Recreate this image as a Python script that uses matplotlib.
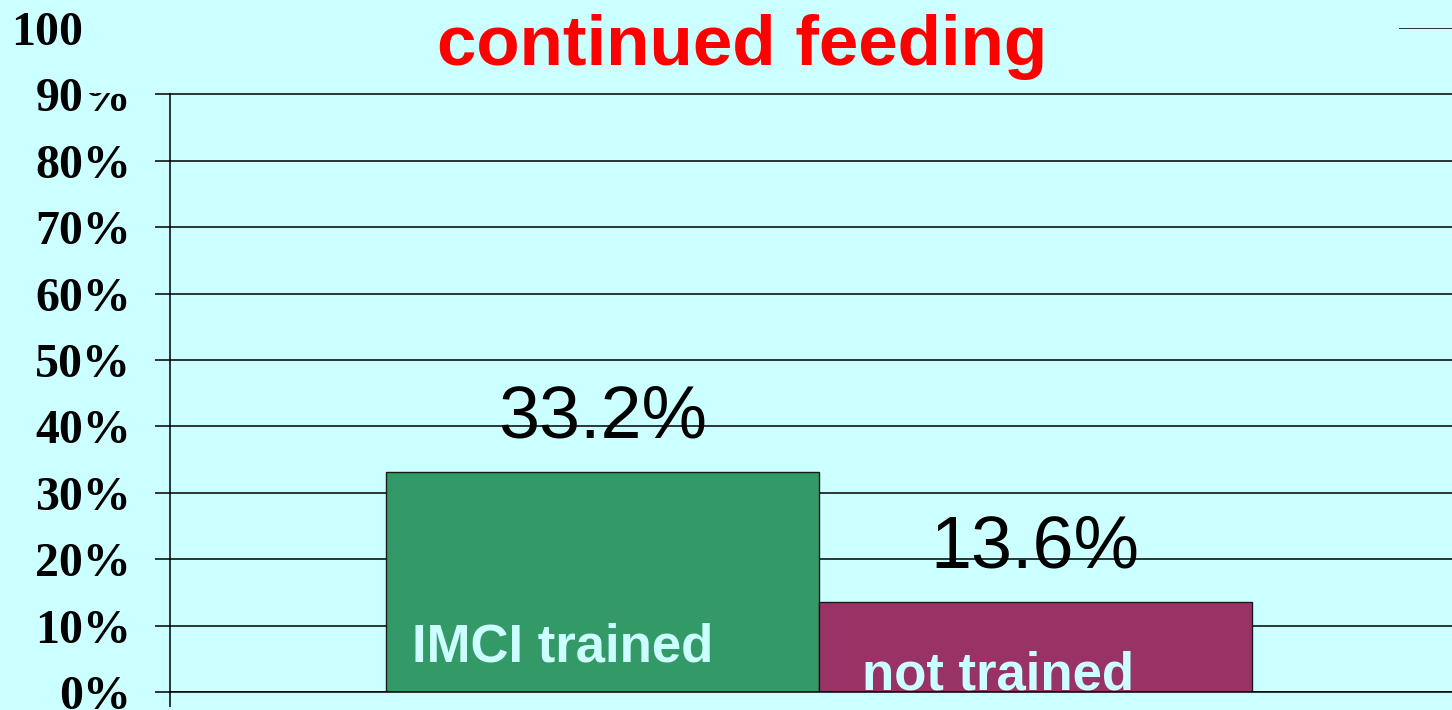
import matplotlib.pyplot as plt
from matplotlib.patches import Rectangle

# data
series = ["IMCI trained", "not trained"]
values = [33.2, 13.6]
value_labels = ["33.2%", "13.6%"]
bar_colors = ["#339966", "#993366"]
yticks = list(range(0, 101, 10))
ytick_labels = ["%d%%" % v for v in yticks]
title = "continued feeding"

bg = "#CCFFFF"
W, H = 1452, 710
fig = plt.figure(figsize=(W / 100, H / 100), dpi=100, facecolor=bg)

# plot area, right side runs past the picture edge
ax = fig.add_axes([170 / W, 18 / H, 1298 / W, 664 / H], facecolor=bg)
ax.set_xlim(-0.5, 0.5)
ax.set_ylim(0, 100)

width = 1 / 3
xs = [-width / 2, width / 2]
bars = ax.bar(xs, values, width=width, color=bar_colors,
              edgecolor="#1a1a1a", linewidth=1.0, zorder=1)

ax.set_axisbelow(True)
ax.yaxis.grid(True, color="black", linewidth=1.1)
ax.set_yticks(yticks)
ax.set_yticklabels(ytick_labels, family=["Liberation Serif", "DejaVu Serif"],
                   fontweight="bold", fontsize=34.5)
ax.tick_params(axis="y", direction="out", length=11, width=1.1, pad=17)
ax.set_xticks([-0.5, 0.5])
ax.set_xticklabels([])
ax.tick_params(axis="x", direction="out", length=11, width=1.1)
for s in ["top", "right"]:
    ax.spines[s].set_visible(False)
for s in ["left", "bottom"]:
    ax.spines[s].set_linewidth(1.1)

# value labels above bars
for b, lab in zip(bars, value_labels):
    ax.annotate(lab, (b.get_x() + b.get_width() / 2, b.get_height()),
                xytext=(0, 34), textcoords="offset pixels",
                ha="center", va="baseline", fontsize=53,
                family=["Liberation Sans", "DejaVu Sans"], color="black")

# series names inside bars
sans = ["Liberation Sans", "DejaVu Sans"]
ax.annotate(series[0], (bars[0].get_x(), 0), xytext=(26, 30),
            textcoords="offset pixels", ha="left", va="baseline",
            fontsize=38, fontweight="bold", family=sans, color=bg, zorder=3)
ax.annotate(series[1], (bars[1].get_x(), 0), xytext=(43, 2),
            textcoords="offset pixels", ha="left", va="baseline",
            fontsize=38, fontweight="bold", family=sans, color=bg, zorder=2)

# title box sits over the top of the chart
fig.add_artist(Rectangle((86 / W, 1 - 93 / H), (1399 - 86) / W, 93 / H,
                         transform=fig.transFigure, facecolor=bg,
                         edgecolor="none", zorder=5))
fig.text(742 / W, 1 - 65 / H, title, ha="center", va="baseline",
         fontsize=51, fontweight="bold", family=sans, color="red", zorder=6)

fig.savefig("out.png", dpi=100, facecolor=bg)
